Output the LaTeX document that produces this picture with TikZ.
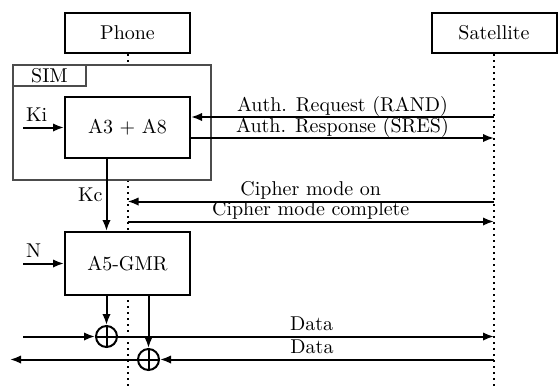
\documentclass[tikz,border=0pt]{standalone}
\usetikzlibrary{arrows.meta}
\tikzset{
  blk/.style={draw, line width=1pt, fill=white, minimum width=62.5pt, inner sep=0pt},
  xor/.style={circle, draw, line width=1pt, fill=white, minimum size=10.5pt, inner sep=0pt,
    path picture={\draw[line width=1pt] (path picture bounding box.north) -- (path picture bounding box.south)
      (path picture bounding box.west) -- (path picture bounding box.east);}},
  life/.style={dotted, line width=1pt},
  msg/.style={->, line width=1pt},
  lbl/.style={inner sep=1pt, text depth=1.5pt},
}
\begin{document}
\begin{tikzpicture}[x=0.5pt, y=-0.5pt, >={Latex[length=5.5pt,width=4.2pt]}]
    \useasboundingbox (0,0) rectangle (558,388);
    % parties and lifelines
    \node[blk, minimum height=20pt] (phone) at (127.5,33) {Phone};
    \node[blk, minimum height=20pt] (sat) at (494,33) {Satellite};
    \coordinate (phonebot) at (127.5,388);
    \coordinate (satbot) at (494,388);
    \draw[life] (phone) -- (phonebot);
    \draw[life] (sat) -- (satbot);
    % SIM
    \node[draw=black!70, line width=0.6pt, fill=white, minimum width=99pt, minimum height=57.5pt, inner sep=0pt] (sim) at (112,122.5) {};
    \node[draw=black!70, line width=0.6pt, anchor=north west, minimum width=36.5pt, minimum height=10.5pt, inner sep=0pt] (simlbl) at (sim.north west) {SIM};
    \node[blk, minimum height=30.5pt] (a3) at (127.5,127.5) {A3 + A8};
    \node[blk, minimum height=31.5pt] (a5) at (127.5,263.5) {A5-GMR};
    % key inputs
    \coordinate (ki) at (23,127.5);
    \draw[msg] (ki) -- (a3.west) node[lbl, pos=0, anchor=south west] {Ki};
    \coordinate (nin) at (23,263.5);
    \draw[msg] (nin) -- (a5.west) node[lbl, pos=0, anchor=south west] {N};
    \draw[msg] ([xshift=-10.5pt]a3.south) -- ([xshift=-10.5pt]a5.north) node[midway, left, inner sep=1.5pt] {Kc};
    % authentication
    \coordinate (rand) at (494,117);
    \draw[msg] (rand) -- (rand -| a3.east) node[lbl, midway, above] {Auth. Request (RAND)};
    \coordinate (sres) at (494,138);
    \draw[msg] (sres -| a3.east) -- (sres) node[lbl, midway, above] {Auth. Response (SRES)};
    % cipher mode
    \coordinate (cmon) at (494,201.5);
    \draw[msg] (cmon) -- (cmon -| phone) node[lbl, midway, above] {Cipher mode on};
    \coordinate (cmdone) at (494,221.5);
    \draw[msg] (cmdone -| phone) -- (cmdone) node[lbl, midway, above] {Cipher mode complete};
    % data
    \node[xor] (x1) at (106.5,336.5) {};
    \node[xor] (x2) at (148.5,359.5) {};
    \coordinate (din) at (23,336.5);
    \coordinate (dout) at (494,336.5);
    \draw[msg] (din) -- (x1);
    \draw[msg] (x1) -- (dout) node[lbl, pos=0.515, above] {Data};
    \coordinate (din2) at (494,359.5);
    \coordinate (dout2) at (10,359.5);
    \draw[msg] (din2) -- (x2) node[lbl, pos=0.545, above] {Data};
    \draw[msg] (x2) -- (dout2);
    \draw[msg] ([xshift=-10.5pt]a5.south) -- (x1);
    \draw[msg] ([xshift=10.5pt]a5.south) -- (x2);
\end{tikzpicture}
\end{document}
